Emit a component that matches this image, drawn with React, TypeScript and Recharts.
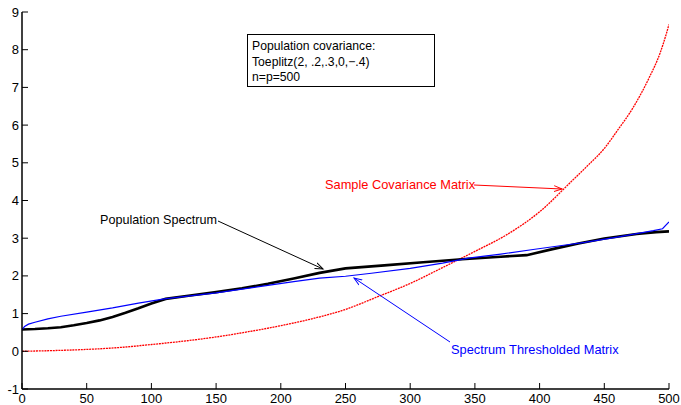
import { LineChart, Line, XAxis, YAxis } from "recharts"

const X_TICKS = [0, 50, 100, 150, 200, 250, 300, 350, 400, 450, 500]
const Y_TICKS = [-1, 0, 1, 2, 3, 4, 5, 6, 7, 8, 9]

// population spectrum (black)
const popX = [0, 10, 20, 30, 40, 50, 60, 70, 80, 90, 100, 111, 130, 150, 170, 190, 210, 230, 250, 280, 310, 340, 370, 390, 410, 430, 450, 475, 490, 500]
const popY = [0.58, 0.59, 0.61, 0.64, 0.69, 0.75, 0.82, 0.91, 1.02, 1.14, 1.27, 1.39, 1.48, 1.57, 1.67, 1.79, 1.93, 2.08, 2.2, 2.28, 2.36, 2.44, 2.51, 2.55, 2.71, 2.86, 2.99, 3.11, 3.16, 3.18]

// spectrum thresholded estimate (blue)
const thrX = [0, 2, 5, 10, 20, 30, 50, 70, 90, 110, 130, 150, 170, 190, 210, 230, 250, 270, 300, 325, 345, 370, 395, 420, 435, 460, 488, 495, 500]
const thrY = [0.57, 0.66, 0.72, 0.77, 0.86, 0.93, 1.04, 1.15, 1.28, 1.39, 1.47, 1.55, 1.65, 1.75, 1.85, 1.94, 1.99, 2.07, 2.2, 2.34, 2.47, 2.58, 2.7, 2.82, 2.89, 3.03, 3.2, 3.25, 3.43]

// sample covariance eigenvalues (red)
const sampX = [0, 25, 50, 75, 100, 125, 150, 175, 200, 225, 250, 275, 300, 325, 350, 375, 400, 425, 437, 450, 460, 472, 485, 493, 498, 500]
const sampY = [0, 0.02, 0.05, 0.1, 0.18, 0.27, 0.38, 0.52, 0.68, 0.87, 1.11, 1.45, 1.8, 2.22, 2.65, 3.1, 3.7, 4.52, 4.92, 5.38, 5.85, 6.45, 7.28, 7.9, 8.43, 8.67]

const pts = (xs: number[], ys: number[]) => xs.map((x, i) => ({ x, y: ys[i] }))

const FONT = "'Liberation Sans', Arial, Helvetica, sans-serif"

const BottomTick = (p: any) => (
  <g>
    <line x1={p.x} x2={p.x} y1={p.y} y2={p.y - 6} stroke="#000" />
    <text x={p.x} y={p.y + 14} textAnchor="middle" fontSize={13} fill="#000" fontFamily={FONT}>{p.payload.value}</text>
  </g>
)
const TopTick = (p: any) => <line x1={p.x} x2={p.x} y1={p.y} y2={p.y + 6} stroke="#000" />
const LeftTick = (p: any) => (
  <g>
    <line x1={p.x} x2={p.x + 6} y1={p.y} y2={p.y} stroke="#000" />
    <text x={p.x - 3} y={p.y + 4.5} textAnchor="end" fontSize={13} fill="#000" fontFamily={FONT}>{p.payload.value}</text>
  </g>
)
const RightTick = (p: any) => <line x1={p.x} x2={p.x - 6} y1={p.y} y2={p.y} stroke="#000" />

function Notes() {
  return (
    <svg width={681} height={405} style={{ position: "absolute", left: 0, top: 0, pointerEvents: "none" }} fontFamily={FONT}>
      <defs>
        {[["k", "#000"], ["b", "#0000ff"], ["r", "#ff0000"]].map(([id, c]) => (
          <marker key={id} id={"ah-" + id} markerWidth={10} markerHeight={8} refX={8} refY={4} orient="auto" markerUnits="userSpaceOnUse">
            <path d="M0,1 L8,4 L0,7" fill="none" stroke={c} strokeWidth={1} />
          </marker>
        ))}
      </defs>
      <rect x={247.5} y={34.5} width={187} height={52} fill="#fff" stroke="#000" />
      <text x={252} y={50} fontSize={12.2}>Population covariance:</text>
      <text x={252} y={66} fontSize={12.2}>Toeplitz(2, .2,.3,0,−.4)</text>
      <text x={252} y={81} fontSize={12.2}>n=p=500</text>

      <text x={100} y={224} fontSize={12.6}>Population Spectrum</text>
      <line x1={218} y1={221} x2={323} y2={269} stroke="#000" markerEnd="url(#ah-k)" />

      <text x={325} y={189} fontSize={12.8} fill="#ff0000">Sample Covariance Matrix</text>
      <line x1={474} y1={185} x2={562} y2={189} stroke="#ff0000" markerEnd="url(#ah-r)" />

      <text x={451} y={354} fontSize={12.8} fill="#0000ff">Spectrum Thresholded Matrix</text>
      <line x1={450} y1={342} x2={354} y2={278} stroke="#0000ff" markerEnd="url(#ah-b)" />
    </svg>
  )
}

export default function App() {
  return (
    <div style={{ position: "relative", width: 681, height: 405, overflow: "hidden", background: "#fff" }}>
      <style>{"body{margin:0;overflow:hidden}"}</style>
      <LineChart width={681} height={405} margin={{ top: 12, right: 12, bottom: 0, left: 0 }}>
        <XAxis xAxisId="b" type="number" dataKey="x" domain={[0, 500]} ticks={X_TICKS} interval={0} allowDataOverflow
          height={16} tickSize={0} tickMargin={0} tickLine={false} tick={BottomTick} axisLine={{ stroke: "#000", strokeWidth: 1.5 }} />
        <XAxis xAxisId="t" orientation="top" type="number" dataKey="x" domain={[0, 500]} ticks={X_TICKS} interval={0} allowDataOverflow
          height={0} tickSize={0} tickMargin={0} tickLine={false} tick={TopTick} axisLine={{ stroke: "#000", strokeWidth: 1.5 }} />
        <YAxis yAxisId="l" type="number" domain={[-1, 9]} ticks={Y_TICKS} interval={0} allowDataOverflow
          width={22} tickSize={0} tickMargin={0} tickLine={false} tick={LeftTick} axisLine={{ stroke: "#000", strokeWidth: 1.5 }} />
        <YAxis yAxisId="r" orientation="right" type="number" domain={[-1, 9]} ticks={Y_TICKS} interval={0} allowDataOverflow
          width={0} tickSize={0} tickMargin={0} tickLine={false} tick={RightTick} axisLine={{ stroke: "#000", strokeWidth: 1.5 }} />
        <Line xAxisId="b" yAxisId="l" data={pts(sampX, sampY)} dataKey="y" type="monotone" stroke="#ff0000" strokeWidth={1.3}
          strokeDasharray="2 0.8" dot={false} isAnimationActive={false} />
        <Line xAxisId="b" yAxisId="l" data={pts(popX, popY)} dataKey="y" type="linear" stroke="#000" strokeWidth={2.6}
          dot={false} isAnimationActive={false} />
        <Line xAxisId="b" yAxisId="l" data={pts(thrX, thrY)} dataKey="y" type="linear" stroke="#0000ff" strokeWidth={1.2}
          dot={false} isAnimationActive={false} />
      </LineChart>
      <Notes />
    </div>
  )
}
